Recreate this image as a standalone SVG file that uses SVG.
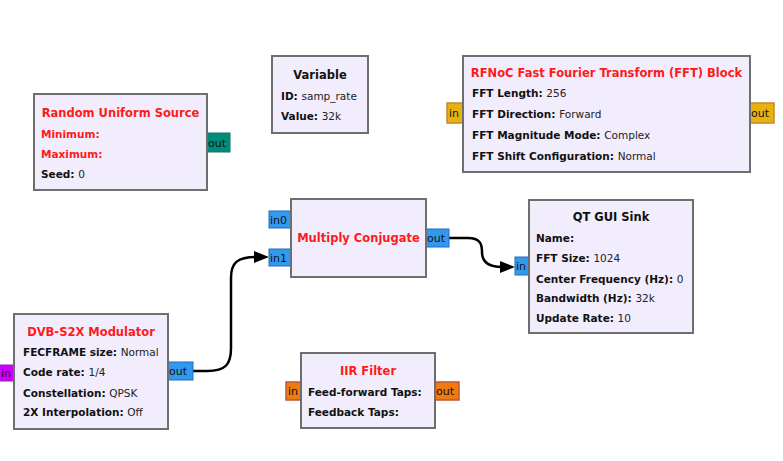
<svg xmlns="http://www.w3.org/2000/svg" width="783" height="461" viewBox="0 0 783 461">
<defs>
<style>
.box{fill:#F1EDFD;stroke:#6e6e6e;stroke-width:2}
.t{font-family:"DejaVu Sans",Verdana,sans-serif;font-size:11.5px;font-weight:bold;fill:#ff1a1a;text-anchor:middle}
.tb{font-family:"DejaVu Sans",Verdana,sans-serif;font-size:11.5px;font-weight:bold;fill:#111;text-anchor:middle}
.r{font-family:"DejaVu Sans",Verdana,sans-serif;font-size:10.5px;font-weight:bold;fill:#111}
.rr{font-family:"DejaVu Sans",Verdana,sans-serif;font-size:10.5px;font-weight:bold;fill:#ff1a1a}
.v{font-weight:normal;fill:#222}
.p{font-family:"DejaVu Sans",Verdana,sans-serif;font-size:11px;fill:#111}
.blue{fill:#3399EE;stroke:#1f6fbf;stroke-width:1}
.gold{fill:#E8B010;stroke:#c08a30;stroke-width:1.5}
.teal{fill:#008C7A;stroke:#1f6f64;stroke-width:1}
.orange{fill:#F07A10;stroke:#b85a30;stroke-width:1.5}
.purple{fill:#CC00FF;stroke:#9020b0;stroke-width:1}
.wire{fill:none;stroke:#000;stroke-width:2.5}
.head{fill:#000}
</style>
</defs>
<rect width="783" height="461" fill="#fff"/>

<g id="connectors">
<path class="wire" d="M193,371 L207,371 C226,371 231,364 231,348 L231,278 C231,263 237,257 256,257"/>
<polygon class="head" points="269,257 254,251 254,263"/>
<path class="wire" d="M449,238 L468,238 C480,238 482,244 482,252 C482,262 488,267 502,267"/>
<polygon class="head" points="515,267 500,261 500,273"/>
</g>

<g id="random_uniform_source">
<rect class="teal" x="206" y="133" width="24" height="19"/>
<text class="p" x="208" y="147">out</text>
<rect class="box" x="34" y="94" width="173" height="96"/>
<text class="t" x="120.5" y="117">Random Uniform Source</text>
<text class="rr" x="41" y="138">Minimum:</text>
<text class="rr" x="41" y="158">Maximum:</text>
<text class="r" x="41" y="178">Seed: <tspan class="v">0</tspan></text>
</g>

<g id="variable">
<rect class="box" x="272" y="56" width="96" height="77"/>
<text class="tb" x="320" y="79">Variable</text>
<text class="r" x="281" y="100">ID: <tspan class="v">samp_rate</tspan></text>
<text class="r" x="281" y="120">Value: <tspan class="v">32k</tspan></text>
</g>

<g id="rfnoc_fft">
<rect class="gold" x="447" y="103" width="17" height="20"/>
<text class="p" x="449" y="117">in</text>
<rect class="gold" x="749" y="103" width="25" height="20"/>
<text class="p" x="751" y="117">out</text>
<rect class="box" x="463" y="56" width="287" height="116"/>
<text class="t" x="606.5" y="77">RFNoC Fast Fourier Transform (FFT) Block</text>
<text class="r" x="472" y="97">FFT Length: <tspan class="v">256</tspan></text>
<text class="r" x="472" y="118">FFT Direction: <tspan class="v">Forward</tspan></text>
<text class="r" x="472" y="139">FFT Magnitude Mode: <tspan class="v">Complex</tspan></text>
<text class="r" x="472" y="160">FFT Shift Configuration: <tspan class="v">Normal</tspan></text>
</g>

<g id="multiply_conjugate">
<rect class="blue" x="269" y="211" width="23" height="17"/>
<text class="p" x="270" y="224">in0</text>
<rect class="blue" x="269" y="249" width="23" height="17"/>
<text class="p" x="270" y="262">in1</text>
<rect class="blue" x="425" y="229" width="24" height="18"/>
<text class="p" x="427" y="242">out</text>
<rect class="box" x="291" y="199" width="135" height="78"/>
<text class="t" x="358.5" y="242">Multiply Conjugate</text>
</g>

<g id="qt_gui_sink">
<rect class="blue" x="515" y="257" width="15" height="18"/>
<text class="p" x="516" y="270">in</text>
<rect class="box" x="529" y="200" width="164" height="133"/>
<text class="tb" x="611" y="221">QT GUI Sink</text>
<text class="r" x="536" y="242">Name:</text>
<text class="r" x="536" y="262">FFT Size: <tspan class="v">1024</tspan></text>
<text class="r" x="536" y="283">Center Frequency (Hz): <tspan class="v">0</tspan></text>
<text class="r" x="536" y="302">Bandwidth (Hz): <tspan class="v">32k</tspan></text>
<text class="r" x="536" y="322">Update Rate: <tspan class="v">10</tspan></text>
</g>

<g id="dvbs2x_modulator">
<rect class="purple" x="-1" y="365" width="16" height="16"/>
<text class="p" x="1" y="377">in</text>
<rect class="blue" x="167" y="362" width="26" height="18"/>
<text class="p" x="169" y="375">out</text>
<rect class="box" x="14" y="314" width="154" height="115"/>
<text class="t" x="91" y="336">DVB-S2X Modulator</text>
<text class="r" x="23" y="356">FECFRAME size: <tspan class="v">Normal</tspan></text>
<text class="r" x="23" y="376">Code rate: <tspan class="v">1/4</tspan></text>
<text class="r" x="23" y="397">Constellation: <tspan class="v">QPSK</tspan></text>
<text class="r" x="23" y="416">2X Interpolation: <tspan class="v">Off</tspan></text>
</g>

<g id="iir_filter">
<rect class="orange" x="286" y="382" width="16" height="18"/>
<text class="p" x="288" y="395">in</text>
<rect class="orange" x="434" y="382" width="25" height="18"/>
<text class="p" x="436" y="395">out</text>
<rect class="box" x="301" y="353" width="134" height="75"/>
<text class="t" x="368" y="375">IIR Filter</text>
<text class="r" x="308" y="396">Feed-forward Taps:</text>
<text class="r" x="308" y="416">Feedback Taps:</text>
</g>
</svg>
